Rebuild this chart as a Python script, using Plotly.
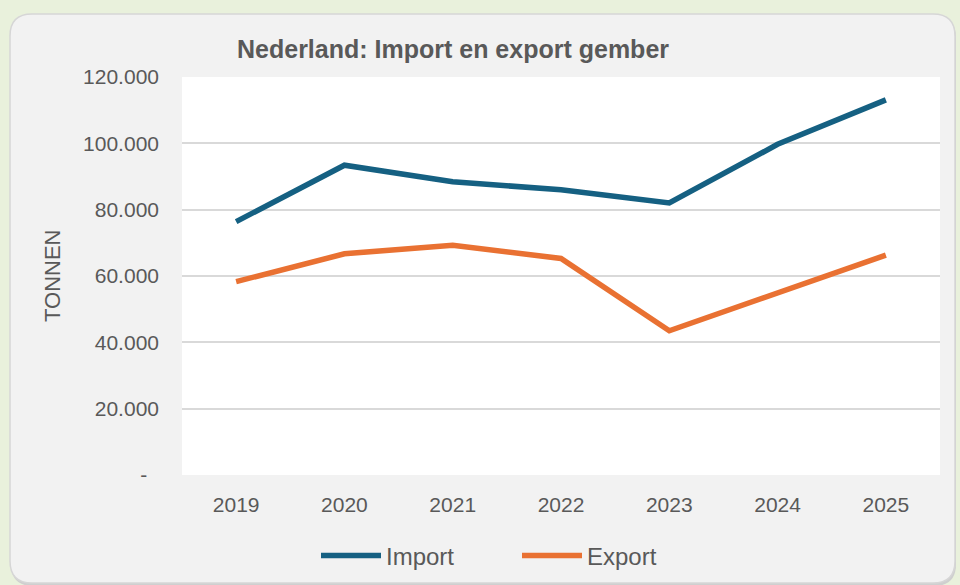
import plotly.graph_objects as go

years = ["2019", "2020", "2021", "2022", "2023", "2024", "2025"]
import_t = [76400, 93400, 88400, 86000, 82000, 99700, 113100]
export_t = [58300, 66700, 69300, 65300, 43500, 54800, 66300]
y_tickvals = [0, 20000, 40000, 60000, 80000, 100000, 120000]
y_ticktext = ["-\u00a0\u00a0", "20.000", "40.000", "60.000", "80.000", "100.000", "120.000"]

TXT = "#595959"
FONT = "Arial, Liberation Sans, sans-serif"

# plot-area geometry (pixels)
L, R, T, B = 182, 940, 77, 475
W, H = 960, 585


def P(px, py):
    return ((px - L) / (R - L), (B - py) / (B - T))


def rrect(x0, y0, x1, y1, r):
    pts = [
        ("M", [(x0 + r, y0)]),
        ("L", [(x1 - r, y0)]),
        ("Q", [(x1, y0), (x1, y0 + r)]),
        ("L", [(x1, y1 - r)]),
        ("Q", [(x1, y1), (x1 - r, y1)]),
        ("L", [(x0 + r, y1)]),
        ("Q", [(x0, y1), (x0, y1 - r)]),
        ("L", [(x0, y0 + r)]),
        ("Q", [(x0, y0), (x0 + r, y0)]),
    ]
    s = ""
    for cmd, ps in pts:
        s += cmd + " " + " ".join("%.5f,%.5f" % P(px, py) for px, py in ps) + " "
    return s + "Z"


fig = go.Figure()
fig.add_trace(go.Scatter(x=years, y=import_t, name="Import", mode="lines",
                         line=dict(color="#156082", width=5.5)))
fig.add_trace(go.Scatter(x=years, y=export_t, name="Export", mode="lines",
                         line=dict(color="#E97132", width=5.5)))

shapes = [
    dict(type="path", xref="paper", yref="paper", layer="below",
         path=rrect(11, 16, 956, 586, 22), fillcolor="#CFCFCF", line=dict(width=0)),
    dict(type="path", xref="paper", yref="paper", layer="below",
         path=rrect(10, 14, 955, 583, 22), fillcolor="#F2F2F2",
         line=dict(color="#D6D6D6", width=1.5)),
    dict(type="rect", xref="paper", yref="paper", layer="below",
         x0=0, x1=1, y0=0, y1=1, fillcolor="#FFFFFF", line=dict(width=0)),
]

fig.update_layout(
    width=W, height=H,
    margin=dict(l=L, r=W - R, t=T, b=H - B, autoexpand=False),
    paper_bgcolor="#E9F1DC",
    plot_bgcolor="#FFFFFF",
    shapes=shapes,
    showlegend=True,
    hovermode=False,
    font=dict(family=FONT, color=TXT, size=21),
    legend=dict(orientation="h", x=P(316, 0)[0], xanchor="left",
                y=P(0, 556)[1], yanchor="middle",
                font=dict(size=24, color=TXT), itemwidth=60, entrywidth=126,
                bgcolor="rgba(0,0,0,0)", tracegroupgap=0),
    annotations=[
        dict(text="<b>Nederland: Import en export gember</b>", xref="paper", yref="paper",
             x=P(453, 0)[0], y=P(0, 49)[1], xanchor="center", yanchor="middle",
             showarrow=False, font=dict(size=25, color=TXT, family=FONT)),
        dict(text="TONNEN", xref="paper", yref="paper", textangle=-90,
             x=P(52, 0)[0], y=0.5, xanchor="center", yanchor="middle",
             showarrow=False, font=dict(size=22, color=TXT, family=FONT)),
    ],
)

fig.update_xaxes(type="category", range=[-0.5, len(years) - 0.5],
                 showgrid=False, zeroline=False, showline=False, automargin=False,
                 ticks="", ticklabelstandoff=15,
                 tickfont=dict(size=21, color=TXT, family=FONT))
fig.update_yaxes(range=[0, 120000], tickvals=y_tickvals, ticktext=y_ticktext,
                 showgrid=True, gridcolor="#D9D9D9", gridwidth=1.5, automargin=False,
                 zeroline=False, showline=False, ticks="", ticklabelstandoff=22,
                 tickfont=dict(size=21, color=TXT, family=FONT))

fig.write_html("out.html", config={"displayModeBar": False},
               post_script="document.body.style.margin='0';")
